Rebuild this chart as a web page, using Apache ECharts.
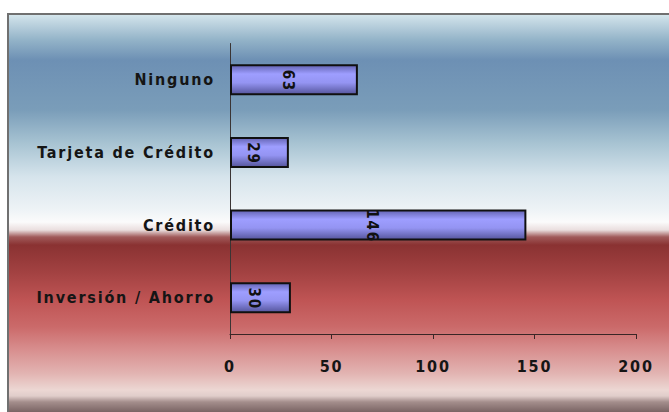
<!DOCTYPE html>
<html>
<head>
<meta charset="utf-8">
<script src="https://cdn.jsdelivr.net/npm/echarts@6/dist/echarts.min.js"></script>
<style>
  html, body { margin: 0; padding: 0; background: #ffffff; }
  #chart { width: 669px; height: 412px; }
  /* wide tracking on every label */
  #chart text { letter-spacing: 1.8px; }
</style>
</head>
<body>
<div id="chart"></div>
<script>
// Categories listed bottom to top, as the category axis draws them
const categories = ['Inversión / Ahorro', 'Crédito', 'Tarjeta de Crédito', 'Ninguno'];
const counts = [30, 146, 29, 63];
const valueTicks = [0, 50, 100, 150, 200];

const labelFont = '"DejaVu Sans Condensed", "Liberation Sans Narrow", sans-serif';

// Background panel: pale blue at the top, white band, then red fading to pink
const panelTop = 14, panelHeight = 400;
const stop = (y, color) => ({ offset: Math.min(1, Math.max(0, (y - panelTop) / panelHeight)), color });
const panelFill = new echarts.graphic.LinearGradient(0, 0, 0, 1, [
  stop(14, '#d7e8ee'), stop(20, '#c6dae4'), stop(40, '#93b3c8'), stop(60, '#6d90b4'),
  stop(110, '#7a9db9'), stop(143, '#a7c3d2'), stop(177, '#d6e4ec'), stop(210, '#eef3f6'),
  stop(222, '#fbfbfb'), stop(230, '#eadede'), stop(237, '#a05a5a'), stop(245, '#8a3232'),
  stop(273, '#a34242'), stop(300, '#bf5454'), stop(327, '#cb6a6a'), stop(350, '#d88f8f'),
  stop(373, '#e2b3b1'), stop(390, '#ecd7d3'), stop(396, '#e0cdca'), stop(402, '#a48e8c'),
  stop(412, '#7a6464'), stop(414, '#786262')
]);

// Bar shading: darker rims, bright lavender body
const barFill = new echarts.graphic.LinearGradient(0, 0, 0, 1, [
  { offset: 0, color: '#6464b4' },
  { offset: 0.3, color: '#9e9eff' },
  { offset: 0.6, color: '#9494f2' },
  { offset: 1, color: '#55559c' }
]);

const chart = echarts.init(document.getElementById('chart'), null, { renderer: 'svg' });
chart.setOption({
  animation: false,
  backgroundColor: '#ffffff',
  graphic: [{
    type: 'rect',
    z: -100,
    silent: true,
    shape: { x: 8, y: panelTop, width: 680, height: panelHeight },
    style: { fill: panelFill, stroke: '#707070', lineWidth: 2 }
  }],
  grid: { left: 230, right: 33, top: 43.5, bottom: 78, containLabel: false },
  xAxis: {
    type: 'value',
    min: valueTicks[0],
    max: valueTicks[valueTicks.length - 1],
    interval: valueTicks[1] - valueTicks[0],
    axisLine: { show: true, lineStyle: { color: '#3a2626', width: 1 } },
    axisTick: { show: true, length: 5, lineStyle: { color: '#3a2626' } },
    splitLine: { show: false },
    axisLabel: {
      margin: 24,
      color: '#151515',
      fontFamily: labelFont,
      fontWeight: 'bold',
      fontSize: 16
    }
  },
  yAxis: {
    type: 'category',
    data: categories,
    axisLine: { show: true, lineStyle: { color: '#3a3434', width: 1 } },
    axisTick: { show: false },
    axisLabel: {
      margin: 15,
      color: '#151515',
      fontFamily: labelFont,
      fontWeight: 'bold',
      fontSize: 16
    }
  },
  series: [{
    type: 'bar',
    data: counts,
    barWidth: 31,
    itemStyle: { color: barFill, borderColor: '#101010', borderWidth: 2 },
    label: {
      show: true,
      position: 'inside',
      rotate: -90,
      offset: [1, 6],
      color: '#111111',
      fontFamily: labelFont,
      fontWeight: 'bold',
      fontSize: 15
    }
  }]
});
</script>
</body>
</html>
